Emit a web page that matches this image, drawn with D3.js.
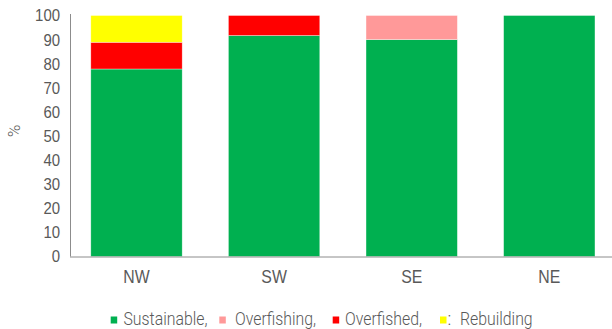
<!DOCTYPE html>
<html>
<head>
<meta charset="utf-8">
<script src="https://cdn.jsdelivr.net/npm/d3@7"></script>
<style>
  html, body { margin: 0; padding: 0; background: #fff; }
  svg { display: block; font-family: Roboto, "Noto Sans", sans-serif; }
  /* narrow, tall lettering */
  .cond { transform-box: fill-box; transform: scaleX(0.88); }
  .cond-start { transform-origin: left center; }
  .cond-end { transform-origin: right center; }
  .cond-mid { transform-origin: center center; }
</style>
</head>
<body>
<svg id="chart" width="612" height="329"></svg>
<script>
// Stock status by region (% of assessed stocks)
const regions = ["NW", "SW", "SE", "NE"];
const statusKeys = ["Sustainable", "Overfishing", "Overfished", "Rebuilding"];
const sustainable = [77.8, 91.7, 90, 100];
const overfishing = [0, 0, 10, 0];
const overfished = [11.1, 8.3, 0, 0];
const rebuilding = [11.1, 0, 0, 0];
const yTicks = [0, 10, 20, 30, 40, 50, 60, 70, 80, 90, 100];
const legendPrefix = ["", "", "", ":"];
const legendLabels = ["Sustainable,", "Overfishing,", "Overfished,", "Rebuilding"];

const colors = {
  Sustainable: "#00B050",
  Overfishing: "#FF9999",
  Overfished: "#FF0000",
  Rebuilding: "#FFFF00"
};

const rows = regions.map((r, i) => ({
  region: r,
  Sustainable: sustainable[i],
  Overfishing: overfishing[i],
  Overfished: overfished[i],
  Rebuilding: rebuilding[i]
}));

const svg = d3.select("#chart");
const textColor = "#595959";
const axisColor = "#8c8c8c";

const x = d3.scaleBand()
  .domain(regions)
  .range([67.7, 618.1])
  .paddingInner(0.336)
  .paddingOuter(0.168);

const y = d3.scaleLinear().domain([0, 100]).range([256.5, 15.5]);

const stacked = d3.stack().keys(statusKeys)(rows);

svg.append("g")
  .selectAll("g")
  .data(stacked)
  .join("g")
  .attr("fill", d => colors[d.key])
  .selectAll("rect")
  .data(d => d.filter(p => p[1] - p[0] > 0))
  .join("rect")
  .attr("x", d => x(d.data.region))
  .attr("width", x.bandwidth())
  .attr("y", d => y(d[1]))
  .attr("height", d => y(d[0]) - y(d[1]))
  .attr("stroke", "#ffffff")
  .attr("stroke-opacity", 0.6)
  .attr("stroke-width", 0.6);

// Left axis
const yAxis = svg.append("g")
  .attr("transform", "translate(70,0)")
  .call(d3.axisLeft(y).tickValues(yTicks).tickSize(0).tickPadding(10));
yAxis.select(".domain").attr("stroke", axisColor).attr("d", `M0.5,14V${y(0)}`);
yAxis.selectAll("text")
  .attr("class", "cond cond-end")
  .attr("fill", textColor)
  .style("font-size", "17px")
  .style("font-weight", 300);

// Bottom axis
const xAxis = svg.append("g")
  .attr("transform", `translate(0,${y(0)})`)
  .call(d3.axisBottom(x).tickSize(0).tickPadding(14));
xAxis.select(".domain").attr("stroke", axisColor).attr("d", "M70,0.5H612");
xAxis.selectAll("text")
  .attr("class", "cond cond-mid")
  .attr("fill", textColor)
  .style("font-size", "18px")
  .style("font-weight", 300);

// Axis title
svg.append("text")
  .attr("transform", "translate(20,131) rotate(-90)")
  .attr("text-anchor", "middle")
  .attr("fill", textColor)
  .style("font-size", "17px")
  .style("font-weight", 300)
  .text("%");

// Legend
const legendSwatchX = [110.7, 219.3, 332.7, 440];
const legendTextX = [123.5, 235, 345, 460];
const legend = svg.append("g");
statusKeys.forEach((k, i) => {
  legend.append("rect")
    .attr("x", legendSwatchX[i])
    .attr("y", 316.5)
    .attr("width", 6.5)
    .attr("height", 7)
    .attr("fill", colors[k]);
  if (legendPrefix[i]) {
    legend.append("text")
      .attr("x", legendSwatchX[i] + 7.5)
      .attr("y", 325)
      .attr("fill", textColor)
      .style("font-size", "18px")
      .style("font-weight", 300)
      .text(legendPrefix[i]);
  }
  legend.append("text")
    .attr("class", "cond cond-start")
    .attr("x", legendTextX[i])
    .attr("y", 325)
    .attr("fill", textColor)
    .style("font-size", "18px")
    .style("font-weight", 300)
    .text(legendLabels[i]);
});
</script>
</body>
</html>
